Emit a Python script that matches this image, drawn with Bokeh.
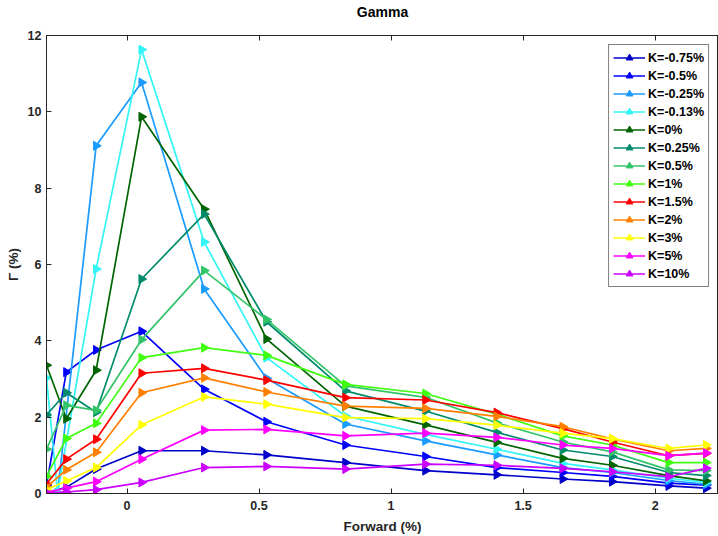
import numpy as np
from bokeh.plotting import figure
from bokeh.models import Range1d, LinearAxis, FixedTicker, Legend, LegendItem
from bokeh.embed import file_html
from bokeh.resources import INLINE

# Forward (%) grid
x_main = [-0.305, -0.230, -0.117, 0.055, 0.292, 0.528, 0.827, 1.130, 1.400, 1.650, 1.837, 2.051, 2.193]
x_alt = [-0.305, -0.263, -0.117, 0.055, 0.292, 0.528, 0.827, 1.130, 1.400, 1.650, 1.837, 2.051, 2.193]

labels = ["K=-0.75%", "K=-0.5%", "K=-0.25%", "K=-0.13%", "K=0%", "K=0.25%", "K=0.5%",
          "K=1%", "K=1.5%", "K=2%", "K=3%", "K=5%", "K=10%"]

g_m075 = [0.02, 0.16, 0.64, 1.12, 1.12, 1.01, 0.81, 0.60, 0.49, 0.38, 0.31, 0.20, 0.14]
g_m050 = [0.22, 3.18, 3.76, 4.25, 2.73, 1.88, 1.27, 0.97, 0.68, 0.55, 0.45, 0.27, 0.22]
g_m025 = [0.05, 0.02, 9.11, 10.77, 5.36, 3.02, 1.82, 1.38, 1.01, 0.68, 0.55, 0.34, 0.24]
g_m013 = [3.03, 0.02, 5.88, 11.63, 6.59, 3.56, 2.03, 1.55, 1.16, 0.79, 0.62, 0.40, 0.29]
g_000 = [3.36, 1.96, 3.23, 9.87, 7.45, 4.05, 2.29, 1.80, 1.34, 0.92, 0.74, 0.47, 0.33]
g_025 = [2.06, 2.64, 2.13, 5.62, 7.32, 4.50, 2.69, 2.16, 1.60, 1.14, 0.97, 0.55, 0.47]
g_050 = [1.16, 2.31, 2.18, 4.03, 5.84, 4.56, 2.82, 2.52, 1.85, 1.35, 1.09, 0.62, 0.60]
g_100 = [0.45, 1.44, 1.84, 3.56, 3.82, 3.62, 2.86, 2.62, 2.08, 1.51, 1.27, 0.81, 0.81]
g_150 = [0.25, 0.90, 1.42, 3.15, 3.28, 2.97, 2.51, 2.45, 2.12, 1.70, 1.35, 0.99, 1.05]
g_200 = [0.17, 0.62, 1.08, 2.64, 3.03, 2.66, 2.29, 2.23, 2.02, 1.75, 1.43, 1.12, 1.18]
g_300 = [0.10, 0.33, 0.68, 1.80, 2.53, 2.34, 1.99, 1.96, 1.79, 1.58, 1.44, 1.18, 1.27]
g_500 = [0.03, 0.14, 0.31, 0.90, 1.66, 1.68, 1.51, 1.58, 1.47, 1.27, 1.18, 0.99, 1.06]
g_1000 = [0.01, 0.04, 0.10, 0.29, 0.68, 0.71, 0.64, 0.77, 0.74, 0.66, 0.57, 0.44, 0.66]

series_y = [g_m075, g_m050, g_m025, g_m013, g_000, g_025, g_050, g_100, g_150, g_200, g_300, g_500, g_1000]
series_x = [x_main, x_main, x_alt, x_alt] + [x_main] * 9

colors = ["#0000C8", "#0000FF", "#1A9BFF", "#33F5F5", "#006400", "#008B6B", "#33C46A",
          "#40FF10", "#FF0000", "#FF8000", "#FFFF00", "#FF00FF", "#CC00FF"]

x_ticks = [0, 0.5, 1, 1.5, 2]
y_ticks = [0, 2, 4, 6, 8, 10, 12]

FONT = "Liberation Sans"
TXT = "#262626"

p = figure(width=718, height=536, output_backend="svg", toolbar_location=None,
           x_range=Range1d(-0.305, 2.24), y_range=Range1d(0, 12),
           min_border_left=46, min_border_right=0, min_border_top=35, min_border_bottom=41)

p.xgrid.visible = False
p.ygrid.visible = False
p.outline_line_color = TXT
p.outline_line_width = 1
p.background_fill_color = "white"
p.border_fill_color = "white"

for ax, ticks in ((p.xaxis[0], x_ticks), (p.yaxis[0], y_ticks)):
    ax.ticker = FixedTicker(ticks=ticks)
    ax.axis_line_color = TXT
    ax.major_tick_line_color = TXT
    ax.major_tick_in = 5
    ax.major_tick_out = 0
    ax.minor_tick_line_color = None
    ax.major_label_text_font = FONT
    ax.major_label_text_font_size = "12.5px"
    ax.major_label_text_font_style = "bold"
    ax.major_label_text_color = TXT
    ax.axis_label_text_font = FONT
    ax.axis_label_text_font_size = "13.5px"
    ax.axis_label_text_font_style = "bold"
    ax.axis_label_text_color = TXT

p.xaxis.axis_label = "Forward (%)"
p.yaxis.axis_label = "Γ (%)"
p.xaxis.major_label_standoff = 7
p.yaxis.major_label_standoff = 5
p.xaxis.axis_label_standoff = 6
p.yaxis.axis_label_standoff = 4
p.xaxis.major_label_overrides = {0: "0", 0.5: "0.5", 1: "1", 1.5: "1.5", 2: "2"}

# top box axis: inward ticks, carries the chart title as its label
top_ax = LinearAxis(ticker=FixedTicker(ticks=x_ticks), major_label_text_font_size="0px",
                    major_tick_in=5, major_tick_out=0, minor_tick_line_color=None,
                    axis_line_color=TXT, major_tick_line_color=TXT, major_label_standoff=0,
                    major_label_text_color=None,
                    major_label_overrides={t: "" for t in x_ticks},
                    axis_label="Gamma", axis_label_text_font=FONT,
                    axis_label_text_font_size="14px", axis_label_text_font_style="bold",
                    axis_label_text_color="#000000", axis_label_standoff=16)
p.add_layout(top_ax, "above")

items = []
for xs, ys, c, lab in zip(series_x, series_y, colors, labels):
    r1 = p.line(xs, ys, line_color=c, line_width=1.7)
    r2 = p.scatter(xs, ys, marker="triangle", angle=-np.pi / 2, size=9,
                   fill_color=c, line_color=c)
    items.append(LegendItem(label=lab, renderers=[r1, r2]))

legend = Legend(items=items, location="top_right")
legend.label_text_font = FONT
legend.label_text_font_size = "12.5px"
legend.label_text_font_style = "bold"
legend.label_text_color = "#000000"
legend.glyph_width = 32
legend.glyph_height = 17
legend.label_height = 17
legend.spacing = 1
legend.padding = 4
legend.margin = 9
legend.label_standoff = 3
legend.border_line_color = "#000000"
legend.border_line_width = 1
legend.background_fill_color = "white"
legend.background_fill_alpha = 1
p.add_layout(legend)

open("out.html", "w").write(file_html(p, INLINE))
